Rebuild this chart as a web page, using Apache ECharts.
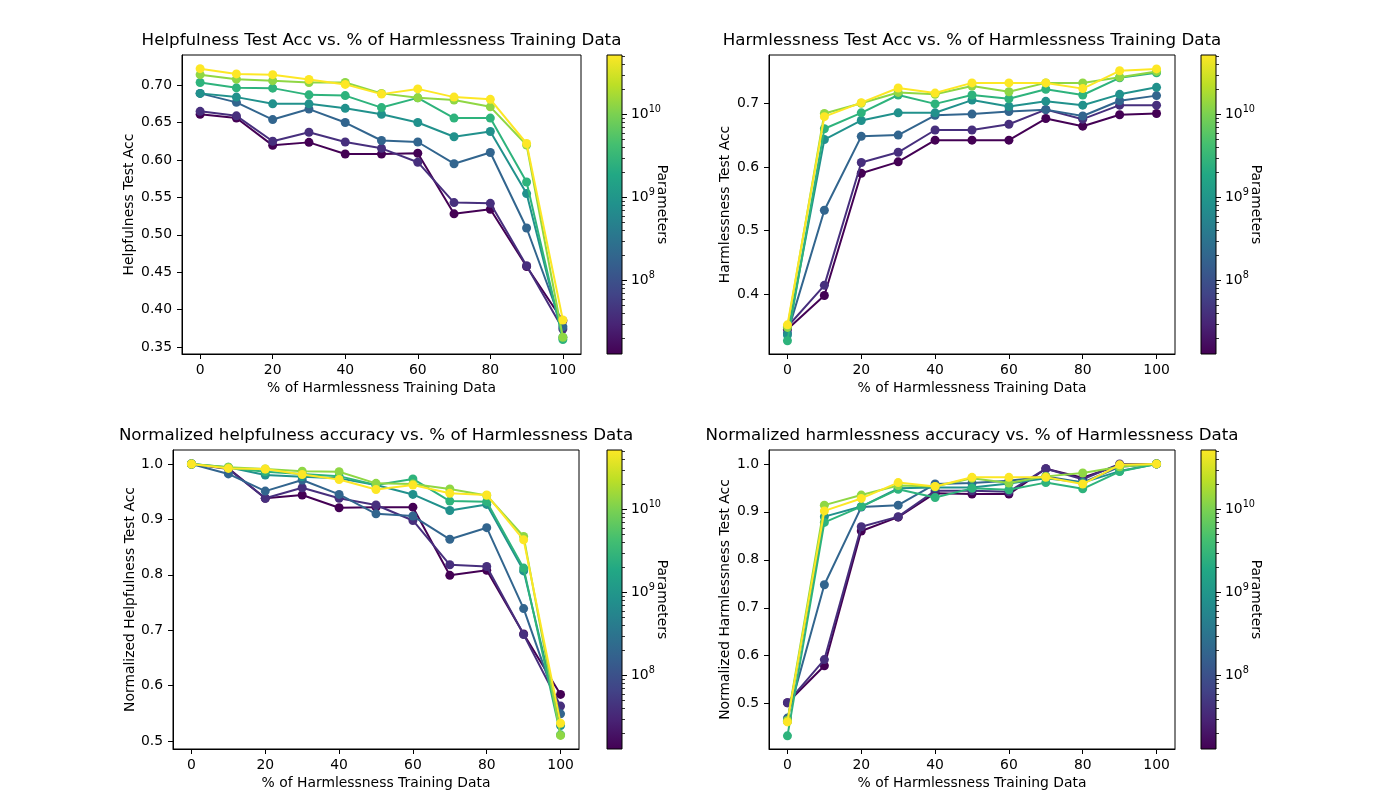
<!DOCTYPE html>
<html><head><meta charset="utf-8">
<script src="https://cdn.jsdelivr.net/npm/echarts@6/dist/echarts.min.js"></script>
<style>html,body{margin:0;padding:0;background:#fff}#c{width:1400px;height:800px}</style>
</head><body><div id="c"></div>
<script>
// ---------------- DATA ----------------
const pct = [0, 10, 20, 30, 40, 50, 60, 70, 80, 90, 100];
const modelNames = ['13M', '42M', '197M', '810M', '2.7B', '13B', '52B'];

// Helpfulness Test Acc
const help13M  = [0.661, 0.656, 0.6195, 0.6235, 0.608, 0.608, 0.609, 0.528, 0.534, 0.4576, 0.385];
const help42M  = [0.665, 0.659, 0.625, 0.637, 0.624, 0.6155, 0.597, 0.543, 0.542, 0.4585, 0.374];
const help197M = [0.689, 0.677, 0.654, 0.668, 0.650, 0.626, 0.624, 0.595, 0.610, 0.509, 0.377];
const help810M = [0.689, 0.684, 0.675, 0.675, 0.669, 0.661, 0.650, 0.631, 0.638, 0.555, 0.363];
const help2B   = [0.7036, 0.6964, 0.696, 0.687, 0.686, 0.670, 0.683, 0.656, 0.656, 0.5706, 0.360];
const help13B  = [0.714, 0.708, 0.706, 0.7036, 0.7036, 0.689, 0.683, 0.680, 0.671, 0.620, 0.363];
const help52B  = [0.722, 0.715, 0.714, 0.7076, 0.701, 0.688, 0.695, 0.684, 0.681, 0.622, 0.386];

// Harmlessness Test Acc
const harm13M  = [0.345, 0.398, 0.590, 0.608, 0.642, 0.642, 0.642, 0.676, 0.664, 0.682, 0.684];
const harm42M  = [0.349, 0.414, 0.607, 0.623, 0.658, 0.658, 0.667, 0.690, 0.675, 0.697, 0.697];
const harm197M = [0.339, 0.532, 0.648, 0.650, 0.681, 0.683, 0.687, 0.690, 0.680, 0.704, 0.712];
const harm810M = [0.336, 0.643, 0.673, 0.685, 0.685, 0.705, 0.695, 0.703, 0.697, 0.714, 0.725];
const harm2B   = [0.327, 0.660, 0.685, 0.713, 0.699, 0.713, 0.707, 0.722, 0.713, 0.740, 0.748];
const harm13B  = [0.348, 0.684, 0.700, 0.717, 0.714, 0.727, 0.718, 0.732, 0.732, 0.741, 0.750];
const harm52B  = [0.352, 0.679, 0.701, 0.724, 0.716, 0.732, 0.732, 0.732, 0.723, 0.751, 0.754];

// Normalized helpfulness accuracy
const nHelp13M  = [1.0, 0.992, 0.938, 0.944, 0.921, 0.922, 0.922, 0.799, 0.808, 0.693, 0.584];
const nHelp42M  = [1.0, 0.991, 0.938, 0.957, 0.938, 0.926, 0.898, 0.818, 0.815, 0.692, 0.563];
const nHelp197M = [1.0, 0.982, 0.951, 0.971, 0.945, 0.910, 0.906, 0.864, 0.885, 0.739, 0.549];
const nHelp810M = [1.0, 0.994, 0.980, 0.977, 0.974, 0.962, 0.945, 0.916, 0.927, 0.807, 0.528];
const nHelp2B   = [1.0, 0.993, 0.986, 0.982, 0.978, 0.962, 0.973, 0.933, 0.932, 0.812, 0.511];
const nHelp13B  = [1.0, 0.994, 0.991, 0.987, 0.986, 0.965, 0.964, 0.955, 0.943, 0.869, 0.510];
const nHelp52B  = [1.0, 0.992, 0.991, 0.981, 0.972, 0.954, 0.962, 0.947, 0.944, 0.863, 0.532];

// Normalized harmlessness accuracy
const nHarm13M  = [0.502, 0.579, 0.860, 0.889, 0.939, 0.937, 0.937, 0.990, 0.971, 0.998, 1.0];
const nHarm42M  = [0.502, 0.592, 0.869, 0.890, 0.944, 0.944, 0.942, 0.990, 0.968, 1.0, 1.0];
const nHarm197M = [0.470, 0.748, 0.910, 0.914, 0.958, 0.960, 0.965, 0.974, 0.961, 0.994, 1.0];
const nHarm810M = [0.463, 0.890, 0.911, 0.949, 0.951, 0.951, 0.959, 0.970, 0.961, 0.985, 1.0];
const nHarm2B   = [0.433, 0.878, 0.911, 0.947, 0.930, 0.949, 0.946, 0.961, 0.948, 0.984, 1.0];
const nHarm13B  = [0.465, 0.914, 0.935, 0.955, 0.953, 0.970, 0.960, 0.974, 0.981, 0.994, 1.0];
const nHarm52B  = [0.462, 0.902, 0.928, 0.961, 0.953, 0.972, 0.972, 0.972, 0.958, 0.998, 1.0];

// Tick labels
const xTicks = [0, 20, 40, 60, 80, 100];
const helpTicks = [0.35, 0.40, 0.45, 0.50, 0.55, 0.60, 0.65, 0.70];
const harmTicks = [0.4, 0.5, 0.6, 0.7];
const normTicks = [0.5, 0.6, 0.7, 0.8, 0.9, 1.0];
const cbarExponents = [8, 9, 10];
const cbarMinorMultipliers = [2, 3, 4, 5, 6, 7, 8, 9];

// ---------------- STYLE ----------------
const seriesColors = ['#440154', '#472f7d', '#32658e', '#21918c', '#2eb37c', '#8fd744', '#fde725'];
const viridisStops = ['#440154','#482475','#414487','#355f8d','#2a788e','#21918c','#22a884','#44bf70','#7ad151','#bddf26','#fde725'];
const FONT = 'DejaVu Sans';
const TICK_FS = 13.9;

const panels = [
  { title: 'Helpfulness Test Acc vs. % of Harmlessness Training Data', ylabel: 'Helpfulness Test Acc',
    data: [help13M, help42M, help197M, help810M, help2B, help13B, help52B],
    grid: { left: 182, top: 55, width: 399, height: 299 }, ymin: 0.3406, ymax: 0.7403,
    yticks: helpTicks, dec: 2, nameGap: 46, cbarLeft: 607 },
  { title: 'Harmlessness Test Acc vs. % of Harmlessness Training Data', ylabel: 'Harmlessness Test Acc',
    data: [harm13M, harm42M, harm197M, harm810M, harm2B, harm13B, harm52B],
    grid: { left: 769, top: 55, width: 406, height: 299 }, ymin: 0.3062, ymax: 0.7758,
    yticks: harmTicks, dec: 1, nameGap: 37, cbarLeft: 1201 },
  { title: 'Normalized helpfulness accuracy vs. % of Harmlessness Data', ylabel: 'Normalized Helpfulness Test Acc',
    data: [nHelp13M, nHelp42M, nHelp197M, nHelp810M, nHelp2B, nHelp13B, nHelp52B],
    grid: { left: 173, top: 450, width: 406, height: 299 }, ymin: 0.4855, ymax: 1.0252,
    yticks: normTicks, dec: 1, nameGap: 36, cbarLeft: 607 },
  { title: 'Normalized harmlessness accuracy vs. % of Harmlessness Data', ylabel: 'Normalized Harmlessness Test Acc',
    data: [nHarm13M, nHarm42M, nHarm197M, nHarm810M, nHarm2B, nHarm13B, nHarm52B],
    grid: { left: 769, top: 450, width: 406, height: 299 }, ymin: 0.4055, ymax: 1.029,
    yticks: normTicks, dec: 1, nameGap: 37, cbarLeft: 1201 }
];

const cbarMin = Math.log10(1.3e7), cbarMax = Math.log10(5.2e10);
const minorVals = [];
[7, 8, 9, 10].forEach(e => cbarMinorMultipliers.forEach(m => {
  const v = e + Math.log10(m);
  if (v >= cbarMin && v <= cbarMax) minorVals.push(v);
}));

const grids = [], xAxes = [], yAxes = [], series = [], graphics = [];
const axisText = { color: '#000', fontFamily: FONT, fontSize: TICK_FS };

panels.forEach((p, i) => {
  grids.push(Object.assign({ show: true, borderColor: '#000', borderWidth: 1, backgroundColor: 'transparent' }, p.grid));
  xAxes.push({
    type: 'value', gridIndex: i, min: -5, max: 105,
    name: '% of Harmlessness Training Data', nameLocation: 'middle', nameGap: 27,
    nameTextStyle: axisText,
    axisLine: { show: true, onZero: false, lineStyle: { color: '#000', width: 1 } },
    axisTick: { show: true, length: 5, lineStyle: { color: '#000', width: 1 }, customValues: xTicks },
    axisLabel: Object.assign({ margin: 9, customValues: xTicks, formatter: v => String(v) }, axisText),
    splitLine: { show: false }
  });
  yAxes.push({
    type: 'value', gridIndex: i, min: p.ymin, max: p.ymax,
    name: p.ylabel, nameLocation: 'middle', nameGap: p.nameGap, nameRotate: 90,
    nameTextStyle: axisText,
    axisLine: { show: true, onZero: false, lineStyle: { color: '#000', width: 1 } },
    axisTick: { show: true, length: 5, lineStyle: { color: '#000', width: 1 }, customValues: p.yticks },
    axisLabel: Object.assign({ margin: 10, customValues: p.yticks, formatter: v => v.toFixed(p.dec) }, axisText),
    splitLine: { show: false }
  });
  p.data.forEach((arr, k) => {
    series.push({
      type: 'line', name: modelNames[k], xAxisIndex: i, yAxisIndex: i,
      data: pct.map((x, j) => [x, arr[j]]),
      symbol: 'circle', symbolSize: 9, showSymbol: true,
      lineStyle: { color: seriesColors[k], width: 2 },
      itemStyle: { color: seriesColors[k] },
      z: 2 + k, animation: false, silent: true
    });
  });
  graphics.push({
    type: 'text', x: p.grid.left + p.grid.width / 2, y: p.grid.top - 14,
    style: { text: p.title, fill: '#000', font: '16.7px "' + FONT + '"', align: 'center', verticalAlign: 'middle', textAlign: 'center', textVerticalAlign: 'middle' }
  });
});

// colorbars
panels.forEach((p, i) => {
  const gi = grids.length;
  grids.push({ left: p.cbarLeft, top: p.grid.top, width: 15, height: 299, show: false });
  xAxes.push({ type: 'value', gridIndex: gi, min: 0, max: 1, show: false });
  const yMajor = yAxes.length;
  yAxes.push({
    type: 'value', gridIndex: gi, min: cbarMin, max: cbarMax, position: 'right',
    name: 'Parameters', nameLocation: 'middle', nameRotate: -90, nameGap: 33, nameMoveOverlap: false,
    nameTextStyle: axisText,
    axisLine: { show: false, onZero: false },
    axisTick: { show: true, length: 5, lineStyle: { color: '#000', width: 1 }, customValues: cbarExponents },
    axisLabel: Object.assign({
      margin: 9, customValues: cbarExponents,
      formatter: v => '{b|10}{s|' + Math.round(v) + '}',
      rich: {
        b: { fontFamily: FONT, fontSize: TICK_FS, color: '#000' },
        s: { fontFamily: FONT, fontSize: 9.7, color: '#000', padding: [0, 0, 9, 0] }
      }
    }, axisText),
    splitLine: { show: false }
  });
  yAxes.push({
    type: 'value', gridIndex: gi, min: cbarMin, max: cbarMax, position: 'right', offset: 0,
    axisLine: { show: false, onZero: false },
    axisTick: { show: true, length: 3, lineStyle: { color: '#000', width: 0.8 }, customValues: minorVals },
    axisLabel: { show: false }, splitLine: { show: false }
  });
  series.push({
    type: 'custom', xAxisIndex: xAxes.length - 1, yAxisIndex: yMajor,
    data: [[0, cbarMin]], silent: true, animation: false,
    renderItem: (params) => {
      const cs = params.coordSys;
      return {
        type: 'rect',
        shape: { x: cs.x, y: cs.y, width: cs.width, height: cs.height },
        style: {
          fill: { type: 'linear', x: 0, y: 1, x2: 0, y2: 0,
                  colorStops: viridisStops.map((c, s) => ({ offset: s / (viridisStops.length - 1), color: c })) },
          stroke: '#000', lineWidth: 1
        }
      };
    }
  });
});

const chart = echarts.init(document.getElementById('c'), null, { renderer: 'canvas' });
chart.setOption({
  backgroundColor: '#fff',
  animation: false,
  textStyle: { fontFamily: FONT },
  grid: grids, xAxis: xAxes, yAxis: yAxes, series: series,
  graphic: graphics
});
</script>
</body></html>
